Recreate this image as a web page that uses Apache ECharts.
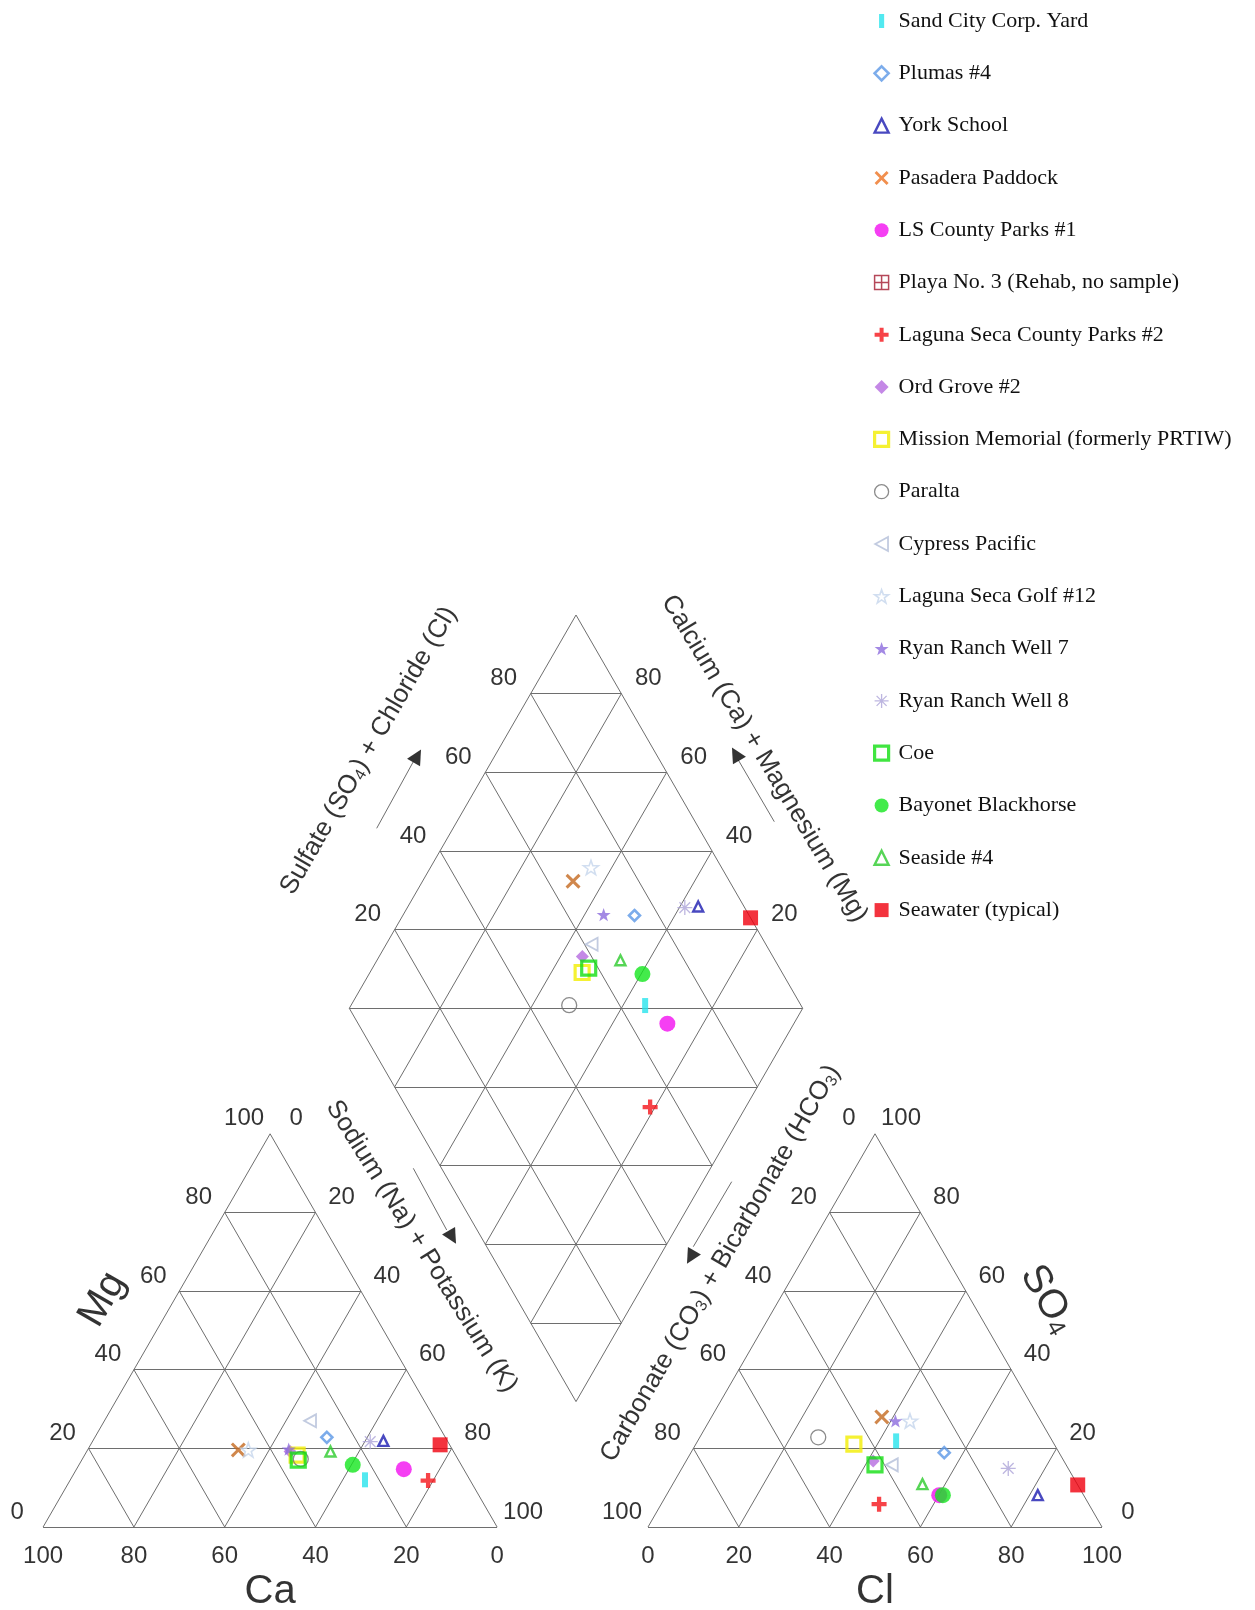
<!DOCTYPE html>
<html><head><meta charset="utf-8">
<script src="https://cdn.jsdelivr.net/npm/echarts@6/dist/echarts.min.js"></script>
<style>html,body{margin:0;padding:0;background:#fff}#c{width:1255px;height:1610px}</style>
</head><body><div id="c"></div>
<script>
// ---------------- DATA (percent of meq/L) ----------------
const sampleNames = ['Sand City Corp. Yard','Plumas #4','York School','Pasadera Paddock','LS County Parks #1','Playa No. 3 (Rehab, no sample)','Laguna Seca County Parks #2','Ord Grove #2','Mission Memorial (formerly PRTIW)','Paralta','Cypress Pacific','Laguna Seca Golf #12','Ryan Ranch Well 7','Ryan Ranch Well 8','Coe','Bayonet Blackhorse','Seaside #4','Seawater (typical)'];
const caPct   = [23.1, 26.1, 14.1, 47.2, 13.2, null,  9.3, 36.0, 34.9, 34.6, 27.7, 45.0, 36.0, 17.1, 35.3, 23.9, 27.1,  2.1];
const mgPct   = [12.0, 22.8, 21.9, 19.6, 14.7, null, 11.8, 19.2, 18.3, 17.3, 27.0, 19.6, 19.8, 21.7, 17.0, 15.8, 19.2, 20.9];
const naKPct  = [64.9, 51.1, 64.0, 33.2, 72.1, null, 78.9, 44.8, 46.8, 48.1, 45.3, 35.4, 44.2, 61.2, 47.7, 60.3, 53.7, 77.0];
const so4Pct  = [21.9, 18.9,  8.1, 28.0,  8.1, null,  5.8, 16.8, 21.1, 22.8, 15.8, 27.0, 27.0, 14.9, 15.8,  8.1, 10.9, 10.7];
const clPct   = [43.7, 55.8, 81.8, 37.5, 60.1, null, 48.0, 41.2, 34.8, 26.1, 45.8, 44.2, 41.0, 71.9, 42.1, 60.9, 55.0, 89.3];
const hco3Pct = [34.4, 25.3, 10.1, 34.5, 31.8, null, 46.2, 42.0, 44.1, 51.1, 38.4, 28.8, 32.0, 13.2, 42.1, 31.0, 34.1,  0.0];
const tickValues = [0, 20, 40, 60, 80, 100];
const gridValues = [20, 40, 60, 80];

// ---------------- LAYOUT ----------------
const S = 454, H = 393.2;
const LT = {x: 43.1, y: 1527};
const RT = {x: 648, y: 1527};
const DM = {x: 349.3, y: 1008.3, w: 226.7, h: 393.3};
function cat(ca, mg, na) { const t = ca + mg + na; return [LT.x + S * (na + mg / 2) / t, LT.y - H * mg / t]; }
function ani(so4, cl, hc) { const t = so4 + cl + hc; return [RT.x + S * (cl + so4 / 2) / t, RT.y - H * so4 / t]; }
function dia(c, a) { return [DM.x + DM.w * (a + 1 - c), DM.y - DM.h * (a + c - 1)]; }

// ---------------- MARKER SHAPES ----------------
function starPath() {
  const p = [];
  for (let i = 0; i < 10; i++) {
    const r = i % 2 ? 4 : 10, ang = (-90 + i * 36) * Math.PI / 180;
    p.push((10 + r * Math.cos(ang)).toFixed(2) + ',' + (10 + r * Math.sin(ang)).toFixed(2));
  }
  return 'path://M' + p.join('L') + 'Z';
}
const XPATH = 'path://M0,2L2,0L7,5L12,0L14,2L9,7L14,12L12,14L7,9L2,14L0,12L5,7Z';
const PLUS = 'path://M5,0H9V5H14V9H9V14H5V9H0V5H5Z';
const BOXPLUS = 'path://M0,0H12V12H0Z M6,0V12 M0,6H12';
const LTRI = 'path://M0,6L11,0L11,12Z';
const AST = 'path://M7,0V14M0,7H14M2,2L12,12M12,2L2,12';
const STAR = starPath();
const T = 'rgba(0,0,0,0)';
const markerStyles = [
  {symbol: 'rect', size: [6, 15], itemStyle: {color: '#27E3EC'}, icon: 'path://M0,0H4V11H0Z'},
  {symbol: 'diamond', size: 11, itemStyle: {color: T, borderColor: '#5B97E6', borderWidth: 2.6}},
  {symbol: 'triangle', size: 10, itemStyle: {color: T, borderColor: '#1C1CB0', borderWidth: 2.4}},
  {symbol: XPATH, size: 15, itemStyle: {color: '#C4691F'}, legendStyle: {color: '#EE7322'}},
  {symbol: 'circle', size: 16, itemStyle: {color: '#F20FF0'}},
  {symbol: BOXPLUS, size: 13, itemStyle: {color: T, borderColor: '#A3192F', borderWidth: 1.5}},
  {symbol: PLUS, size: 15, itemStyle: {color: '#F5141A'}},
  {symbol: 'diamond', size: 13, itemStyle: {color: '#B56AE0'}},
  {symbol: 'rect', size: 14, itemStyle: {color: T, borderColor: '#F2EE00', borderWidth: 3.2}},
  {symbol: 'circle', size: 15, itemStyle: {color: T, borderColor: '#6E6E6E', borderWidth: 1.3}},
  {symbol: LTRI, size: 13, itemStyle: {color: T, borderColor: '#B3BED8', borderWidth: 1.8}},
  {symbol: STAR, size: 15, itemStyle: {color: T, borderColor: '#C5D6EC', borderWidth: 1.6}},
  {symbol: STAR, size: 14, itemStyle: {color: '#8C6BDD'}},
  {symbol: AST, size: 15, itemStyle: {color: T, borderColor: '#ACA4D8', borderWidth: 1.3}},
  {symbol: 'rect', size: 14, itemStyle: {color: T, borderColor: '#12DE12', borderWidth: 3.2}},
  {symbol: 'circle', size: 16, itemStyle: {color: '#14E61E'}},
  {symbol: 'triangle', size: 10, itemStyle: {color: T, borderColor: '#2CCB2C', borderWidth: 2.4}},
  {symbol: 'rect', size: 15, itemStyle: {color: '#F0000E'}}
];

// ---------------- GRID LINES ----------------
const segs = [];
function seg(a, b) { segs.push({coords: [a, b]}); }
[0].concat(gridValues).forEach(v => {
  seg(cat(100 - v, v, 0), cat(0, v, 100 - v));
  seg(cat(100 - v, 0, v), cat(0, 100 - v, v));
  seg(cat(v, 0, 100 - v), cat(v, 100 - v, 0));
  seg(ani(v, 0, 100 - v), ani(v, 100 - v, 0));
  seg(ani(0, v, 100 - v), ani(100 - v, v, 0));
  seg(ani(0, 100 - v, v), ani(100 - v, 0, v));
  seg(dia(1, v / 100), dia(v / 100, 1));
  if (v > 0) seg(dia(1 - v / 100, 0), dia(0, 1 - v / 100));
});
tickValues.forEach(v => {
  seg(dia(v / 100, 0), dia(v / 100, 1));
  seg(dia(0, v / 100), dia(1, v / 100));
});

// ---------------- TICK LABELS ----------------
const add = (p, o) => [p[0] + o[0], p[1] + o[1]];
const tickItems = [];
tickValues.forEach(v => {
  tickItems.push([add(cat(v, 0, 100 - v), [0, 29]), v]);
  tickItems.push([add(cat(100 - v, v, 0), [-26, -15]), v]);
  tickItems.push([add(cat(0, 100 - v, v), [26, -15]), v]);
  tickItems.push([add(ani(0, v, 100 - v), [0, 29]), v]);
  tickItems.push([add(ani(100 - v, 0, v), [-26, -15]), v]);
  tickItems.push([add(ani(v, 100 - v, 0), [26, -15]), v]);
});
gridValues.forEach(v => {
  tickItems.push([add(dia(1, v / 100), [-27, -15]), v]);
  tickItems.push([add(dia(v / 100, 1), [27, -15]), v]);
});

// ---------------- AXIS TITLES ----------------
const titleItems = [
  {p: add(cat(50, 0, 50), [0, 65]), t: 'Ca', r: 0, big: true},
  {p: add(cat(50, 50, 0), [-54, -31]), t: 'Mg', r: 60, big: true},
  {p: add(ani(0, 50, 50), [0, 65]), t: 'Cl', r: 0, big: true},
  {p: add(ani(50, 50, 0), [59, -31]), t: 'SO{b|4}', r: -60, big: true},
  {p: add(cat(0, 50, 50), [38, -84]), t: 'Sodium (Na) + Potassium (K)', r: -58},
  {p: add(ani(50, 0, 50), [-41, -67]), t: 'Carbonate (CO{s|3}) + Bicarbonate (HCO{s|3})', r: 60},
  {p: add(dia(1, 0.5), [-94, -61]), t: 'Sulfate (SO{s|4}) + Chloride (Cl)', r: 60},
  {p: add(dia(0.5, 1), [75, -53]), t: 'Calcium (Ca) + Magnesium (Mg)', r: -59}
];

// ---------------- ARROWS ----------------
const arrowLines = [
  [[376.7, 828.3], [413.3, 761.7]],
  [[774.3, 821.7], [738.3, 760.0]],
  [[413.3, 1168.3], [446.7, 1230.0]],
  [[731.7, 1181.7], [693.3, 1246.7]]
];
const arrowHeads = [
  {p: [417.3, 756.0], dir: 60},
  {p: [735.7, 754.0], dir: 120},
  {p: [452.3, 1237.3], dir: -60},
  {p: [690.7, 1257.3], dir: 240}
];

// ---------------- BUILD OPTION ----------------
const series = [];
series.push({
  type: 'lines', coordinateSystem: 'cartesian2d', silent: true, z: 1,
  lineStyle: {color: '#6e6e6e', width: 1, opacity: 1}, data: segs
});
series.push({
  type: 'lines', coordinateSystem: 'cartesian2d', silent: true, z: 1,
  lineStyle: {color: '#6e6e6e', width: 1, opacity: 1},
  data: arrowLines.map(c => ({coords: c}))
});
series.push({
  type: 'scatter', silent: true, z: 2, symbol: 'triangle', symbolSize: 15,
  itemStyle: {color: '#000'},
  data: arrowHeads.map(a => ({value: a.p, symbolRotate: a.dir - 90}))
});
series.push({
  type: 'scatter', silent: true, z: 2, symbolSize: 0, itemStyle: {color: T},
  label: {show: true, position: 'inside', fontFamily: 'Liberation Sans', fontSize: 24, color: '#000',
    formatter: p => String(p.data.value[2])},
  data: tickItems.map(t => ({value: [t[0][0], t[0][1], t[1]]}))
});
series.push({
  type: 'scatter', silent: true, z: 2, symbolSize: 0, itemStyle: {color: T},
  data: titleItems.map(t => ({
    value: t.p,
    label: {show: true, position: 'inside', rotate: t.r, formatter: t.t,
      fontFamily: 'Liberation Sans', fontSize: t.big ? 40 : 26, color: '#000',
      rich: {
        s: {fontFamily: 'Liberation Sans', fontSize: 16, color: '#000', padding: [11, 0, 0, 0], verticalAlign: 'bottom'},
        b: {fontFamily: 'Liberation Sans', fontSize: 25, color: '#000', padding: [16, 0, 0, 0], verticalAlign: 'bottom'}
      }}
  }))
});
const legendData = [];
sampleNames.forEach((name, i) => {
  const st = markerStyles[i];
  const pts = [];
  if (caPct[i] != null) {
    const c = (caPct[i] + mgPct[i]) / (caPct[i] + mgPct[i] + naKPct[i]);
    const a = (so4Pct[i] + clPct[i]) / (so4Pct[i] + clPct[i] + hco3Pct[i]);
    pts.push(cat(caPct[i], mgPct[i], naKPct[i]));
    pts.push(ani(so4Pct[i], clPct[i], hco3Pct[i]));
    pts.push(dia(c, a));
  }
  series.push({
    type: 'scatter', name: name, silent: true, z: 5, data: pts,
    symbol: st.symbol, symbolSize: st.size, symbolKeepAspect: true,
    itemStyle: st.itemStyle
  });
  legendData.push({name: name, icon: st.icon || st.symbol,
    itemStyle: Object.assign({}, st.itemStyle, st.legendStyle || {})});
});

const option = {
  animation: false,
  backgroundColor: '#fff',
  grid: {left: 0, right: 0, top: 0, bottom: 0, containLabel: false},
  xAxis: {type: 'value', min: 0, max: 1255, show: false},
  yAxis: {type: 'value', min: 0, max: 1610, inverse: true, show: false},
  legend: {
    orient: 'vertical', left: 868, top: 4, itemWidth: 14, itemHeight: 14, itemGap: 28.3,
    selectedMode: false,
    textStyle: {fontFamily: 'Liberation Serif', fontSize: 22, color: '#111', lineHeight: 24, padding: [0, 0, 0, 5]},
    data: legendData
  },
  series: series
};
const chart = echarts.init(document.getElementById('c'), null, {renderer: 'canvas'});
chart.setOption(option);
</script>
</body></html>
